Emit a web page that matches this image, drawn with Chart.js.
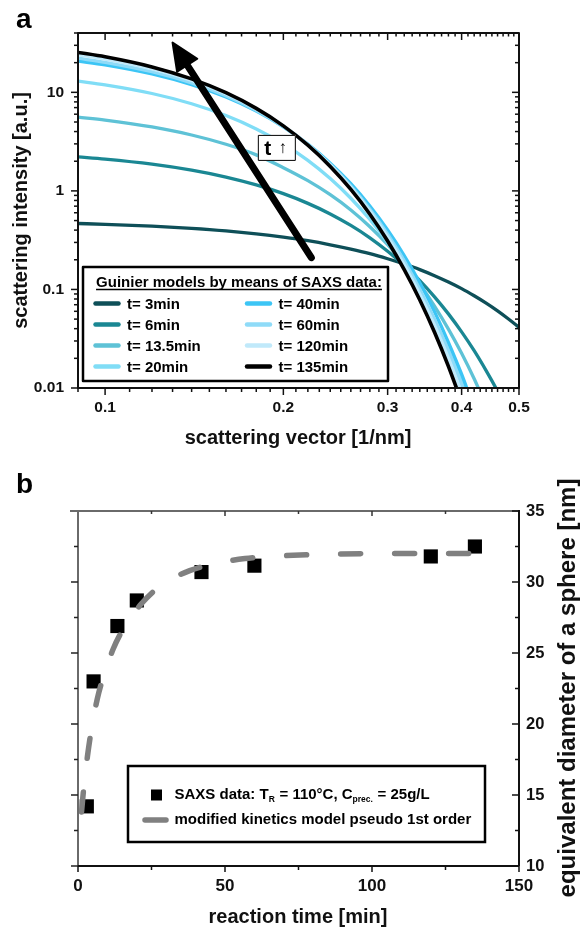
<!DOCTYPE html>
<html>
<head>
<meta charset="utf-8">
<script src="https://cdn.jsdelivr.net/npm/chart.js@4.4.1/dist/chart.umd.min.js"></script>
<style>
  body { margin: 0; background: #fff; width: 580px; height: 929px; position: relative; overflow: hidden; }
  #wrapA { position: absolute; left: 0; top: 0; width: 580px; height: 465px; }
  #wrapB { position: absolute; left: 0; top: 465px; width: 580px; height: 464px; }
</style>
</head>
<body>
<div id="wrapA"><canvas id="chartA" width="580" height="465"></canvas></div>
<div id="wrapB"><canvas id="chartB" width="580" height="464"></canvas></div>
<script>
// ---- panel a: Guinier models ----
const qGrid = [0.09, 0.10, 0.12, 0.14, 0.16, 0.18, 0.20, 0.22, 0.24, 0.26, 0.28, 0.30, 0.32, 0.34, 0.36, 0.38, 0.40, 0.42, 0.44, 0.46, 0.48, 0.50];
const curveLabels = ['t= 3min', 't= 6min', 't= 13.5min', 't= 20min', 't= 40min', 't= 60min', 't= 120min', 't= 135min'];
const curveColors = ['#0e4f58', '#1a8793', '#5ec2d6', '#80ddf6', '#3cc5f5', '#8fdbf8', '#c0e9fa', '#000000'];
const I_t3    = [0.467, 0.458, 0.438, 0.416, 0.392, 0.366, 0.339, 0.312, 0.284, 0.257, 0.231, 0.205, 0.181, 0.159, 0.138, 0.119, 0.102, 0.0863, 0.0727, 0.0607, 0.0502, 0.0413];
const I_t6    = [2.21, 2.10, 1.866, 1.622, 1.380, 1.149, 0.937, 0.747, 0.584, 0.446, 0.334, 0.244, 0.175, 0.123, 0.0842, 0.0565, 0.0371, 0.0239, 0.0150, 0.0093, 0.0056];
const I_t13_5 = [5.6, 5.23, 4.45, 3.69, 2.97, 2.32, 1.72, 1.27, 0.915, 0.640, 0.433, 0.285, 0.182, 0.113, 0.0678, 0.0396, 0.0225, 0.0124, 0.0066];
const I_t20   = [13.0, 11.91, 9.73, 7.66, 5.81, 4.25, 3.00, 2.04, 1.334, 0.842, 0.512, 0.300, 0.170, 0.0925, 0.0486, 0.0246, 0.0120, 0.0056];
const I_t40   = [20.8, 18.98, 15.35, 11.95, 8.95, 6.45, 4.47, 2.98, 1.913, 1.182, 0.702, 0.401, 0.221, 0.117, 0.0595, 0.0291, 0.0138, 0.0062];
const I_t60   = [22.2, 20.18, 16.18, 12.46, 9.22, 6.56, 4.48, 2.93, 1.850, 1.120, 0.651, 0.364, 0.195, 0.1007, 0.0498, 0.0237, 0.0108, 0.0048];
const I_t120  = [24.0, 21.74, 17.29, 13.20, 9.66, 6.78, 4.57, 2.95, 1.830, 1.088, 0.620, 0.339, 0.178, 0.0896, 0.0433, 0.0201, 0.0089];
const I_t135  = [25.4, 22.93, 18.10, 13.68, 9.91, 6.87, 4.57, 2.91, 1.771, 1.034, 0.579, 0.310, 0.159, 0.0782, 0.0368, 0.0166, 0.0072];
const curves = [I_t3, I_t6, I_t13_5, I_t20, I_t40, I_t60, I_t120, I_t135];

const xTicksA = [0.1, 0.2, 0.3, 0.4, 0.5];
const xTickLabelsA = ['0.1', '0.2', '0.3', '0.4', '0.5'];
const yTicksA = [0.01, 0.1, 1, 10];
const yTickLabelsA = ['0.01', '0.1', '1', '10'];

// arrow and "t ↑" note, in data units
const arrowFrom = { q: 0.223, I: 0.21 };
const arrowTo = { q: 0.130, I: 32 };
const noteAt = { q: 0.195, I: 2.73 };

// ---- panel b: particle size vs reaction time ----
const saxsTime = [3, 5.3, 13.4, 20, 42, 60, 120, 135];
const saxsDiam = [14.2, 23.0, 26.9, 28.7, 30.7, 31.15, 31.8, 32.5];
const modelTime = [1.2, 2, 3.2, 4.7, 6.6, 8.6, 12, 16, 21.7, 28.5, 38, 46.6, 56.8, 66, 75.5, 85, 100, 120, 141];
const modelDiam = [13.8, 15.6, 17.7, 19.8, 21.8, 23.3, 25.3, 26.9, 28.5, 29.8, 30.8, 31.3, 31.65, 31.8, 31.9, 31.95, 32.0, 32.0, 32.0];
const xTicksB = [0, 50, 100, 150];
const yTicksB = [10, 15, 20, 25, 30, 35];

const FAM = '"Liberation Sans", Arial, Helvetica, sans-serif';
const font = (s, w) => (w || 'bold') + ' ' + s + 'px ' + FAM;

function seg(ctx, x1, y1, x2, y2) {
  ctx.beginPath(); ctx.moveTo(x1, y1); ctx.lineTo(x2, y2); ctx.stroke();
}

const decorA = {
  id: 'decorA',
  afterDraw(chart) {
    const { ctx, chartArea: a, scales: { x, y } } = chart;
    ctx.save();
    ctx.strokeStyle = '#111';
    ctx.fillStyle = '#000';

    // arrow
    const p1 = { x: x.getPixelForValue(arrowFrom.q), y: y.getPixelForValue(arrowFrom.I) };
    const p2 = { x: x.getPixelForValue(arrowTo.q), y: y.getPixelForValue(arrowTo.I) };
    const ang = Math.atan2(p2.y - p1.y, p2.x - p1.x);
    const hl = 27, hw = 12;
    const bx = p2.x - hl * Math.cos(ang), by = p2.y - hl * Math.sin(ang);
    ctx.lineWidth = 7; ctx.lineCap = 'round'; ctx.strokeStyle = '#000';
    seg(ctx, p1.x, p1.y, bx + 3 * Math.cos(ang), by + 3 * Math.sin(ang));
    ctx.lineCap = 'butt';
    ctx.beginPath();
    ctx.moveTo(p2.x, p2.y);
    ctx.lineTo(bx + hw * Math.sin(ang), by - hw * Math.cos(ang));
    ctx.lineTo(bx - hw * Math.sin(ang), by + hw * Math.cos(ang));
    ctx.closePath();
    ctx.lineJoin = 'round'; ctx.lineWidth = 2; ctx.fill(); ctx.stroke();

    // "t ↑" box
    const nx = x.getPixelForValue(noteAt.q), ny = y.getPixelForValue(noteAt.I);
    ctx.fillStyle = '#fff';
    ctx.fillRect(nx - 19, ny - 13, 38, 26);
    ctx.lineWidth = 1; ctx.strokeStyle = '#000';
    ctx.strokeRect(nx - 18.5, ny - 12.5, 37, 25);
    ctx.fillStyle = '#000';
    ctx.textBaseline = 'middle'; ctx.textAlign = 'center';
    ctx.font = font(21);
    ctx.fillText('t', nx - 9, ny + 1);
    ctx.font = font(17, 'normal');
    ctx.fillText('\u2191', nx + 6, ny);

    // frame
    ctx.strokeStyle = '#111'; ctx.lineWidth = 2;
    ctx.strokeRect(a.left, a.top, a.right - a.left, a.bottom - a.top);

    // y ticks: left outward, right inward
    ctx.lineWidth = 1.5;
    yTicksA.forEach(major => {
      for (let m = 1; m <= 9; m++) {
        const v = major * m;
        if (v > y.max) break;
        const py = y.getPixelForValue(v);
        const len = m === 1 ? 7 : 4;
        seg(ctx, a.left, py, a.left - len, py);
        seg(ctx, a.right, py, a.right - len, py);
      }
    });
    // x ticks: every 0.01, bottom outward, top inward
    for (let k = 9; k <= 50; k++) {
      const v = k / 100;
      const px = x.getPixelForValue(v);
      const major = k % 10 === 0;
      seg(ctx, px, a.bottom, px, a.bottom + (major ? 7 : 4));
      seg(ctx, px, a.top, px, a.top + (major ? 7 : 3.5));
    }

    // tick labels
    ctx.fillStyle = '#111';
    ctx.font = font(15.5);
    ctx.textAlign = 'right'; ctx.textBaseline = 'middle';
    yTicksA.forEach((v, i) => ctx.fillText(yTickLabelsA[i], 64, y.getPixelForValue(v)));
    ctx.textAlign = 'center';
    xTicksA.forEach((v, i) => ctx.fillText(xTickLabelsA[i], x.getPixelForValue(v), 408));

    // axis titles
    ctx.font = font(20);
    ctx.fillText('scattering vector [1/nm]', 298, 438);
    ctx.save();
    ctx.translate(21, 210.5); ctx.rotate(-Math.PI / 2);
    ctx.fillText('scattering intensity [a.u.]', 0, 0);
    ctx.restore();

    // panel letter
    ctx.font = font(28); ctx.textAlign = 'left'; ctx.textBaseline = 'alphabetic'; ctx.fillStyle = '#000';
    ctx.fillText('a', 16, 28);

    // legend box
    ctx.fillStyle = '#fff';
    ctx.fillRect(83, 267, 305, 114);
    ctx.lineWidth = 2.5; ctx.strokeStyle = '#000';
    ctx.strokeRect(83, 267, 305, 114);
    ctx.fillStyle = '#000';
    ctx.font = font(15);
    ctx.textAlign = 'center'; ctx.textBaseline = 'alphabetic';
    const title = 'Guinier models by means of SAXS data:';
    ctx.fillText(title, 239, 287);
    const tw = ctx.measureText(title).width;
    ctx.lineWidth = 1.6;
    seg(ctx, 239 - tw / 2, 289.5, 239 + tw / 2, 289.5);
    ctx.textAlign = 'left'; ctx.textBaseline = 'middle';
    curveLabels.forEach((lab, i) => {
      const col = i < 4 ? 0 : 1;
      const ry = 303.5 + 21 * (i % 4);
      const lx = col ? 247 : 95.5;
      ctx.strokeStyle = curveColors[i]; ctx.lineWidth = 4.5; ctx.lineCap = 'round';
      seg(ctx, lx, ry, lx + 23, ry);
      ctx.fillStyle = '#000';
      ctx.fillText(lab, col ? 278.5 : 127, ry + 1);
    });
    ctx.restore();
  }
};

const decorB = {
  id: 'decorB',
  afterDraw(chart) {
    const { ctx, chartArea: a, scales: { x, y } } = chart;
    ctx.save();
    // axis lines
    ctx.lineWidth = 2;
    ctx.strokeStyle = '#6a6a6a';
    seg(ctx, a.left - 8, a.top, a.right, a.top);
    seg(ctx, a.left, a.top, a.left, a.bottom);
    ctx.strokeStyle = '#111';
    seg(ctx, a.left, a.bottom, a.right, a.bottom);
    seg(ctx, a.right, a.top - 1, a.right, a.bottom);

    // y ticks every 2.5
    ctx.lineWidth = 1.5;
    for (let v = 10; v <= 35; v += 2.5) {
      const py = y.getPixelForValue(v);
      const major = v % 5 === 0;
      ctx.strokeStyle = '#222';
      if (v < 35) seg(ctx, a.left, py, a.left - (major ? 7 : 4), py);
      ctx.strokeStyle = '#111';
      seg(ctx, a.right, py, a.right - (major ? 7 : 4), py);
    }
    // x ticks every 25
    for (let v = 0; v <= 150; v += 25) {
      const px = x.getPixelForValue(v);
      const major = v % 50 === 0;
      ctx.strokeStyle = '#111';
      seg(ctx, px, a.bottom, px, a.bottom + (major ? 6 : 4));
      ctx.strokeStyle = '#333';
      if (v > 0 && v < 150) seg(ctx, px, a.top, px, a.top + (major ? 5 : 3));
    }

    // tick labels
    ctx.fillStyle = '#111';
    ctx.font = font(17);
    ctx.textAlign = 'center'; ctx.textBaseline = 'middle';
    xTicksB.forEach(v => ctx.fillText(String(v), x.getPixelForValue(v), 421));
    ctx.font = font(16.5);
    ctx.textAlign = 'left';
    yTicksB.forEach(v => ctx.fillText(String(v), 526, y.getPixelForValue(v)));

    // titles
    ctx.textAlign = 'center';
    ctx.font = font(20);
    ctx.fillText('reaction time [min]', 298, 452);
    ctx.save();
    ctx.translate(568, 223); ctx.rotate(-Math.PI / 2);
    ctx.font = font(24);
    ctx.fillText('equivalent diameter of a sphere [nm]', 0, 0);
    ctx.restore();

    ctx.font = font(28); ctx.textAlign = 'left'; ctx.textBaseline = 'alphabetic'; ctx.fillStyle = '#000';
    ctx.fillText('b', 16, 28);

    // legend
    ctx.fillStyle = '#fff';
    ctx.fillRect(128, 301, 357, 76);
    ctx.lineWidth = 2.5; ctx.strokeStyle = '#000';
    ctx.strokeRect(128, 301, 357, 76);
    ctx.fillStyle = '#000';
    ctx.fillRect(151, 324.5, 11, 11);
    ctx.strokeStyle = '#808080'; ctx.lineWidth = 5.5; ctx.lineCap = 'round';
    seg(ctx, 145, 355, 166, 355);
    ctx.textBaseline = 'middle';
    let tx = 174.5;
    const parts = [['SAXS data: T', 0], ['R', 1], [' = 110\u00b0C, C', 0], ['prec.', 1], [' = 25g/L', 0]];
    parts.forEach(([s, sub]) => {
      ctx.font = font(sub ? 8.5 : 15);
      ctx.fillText(s, tx, sub ? 335 : 330);
      tx += ctx.measureText(s).width + (sub ? 0.5 : 0);
    });
    ctx.font = font(15);
    ctx.fillText('modified kinetics model pseudo 1st order', 174.5, 355);
    ctx.restore();
  }
};

new Chart(document.getElementById('chartA'), {
  type: 'line',
  data: {
    datasets: curves.map((vals, i) => ({
      label: curveLabels[i],
      data: vals.map((v, j) => ({ x: qGrid[j], y: v })),
      borderColor: curveColors[i],
      borderWidth: i === 7 ? 3.6 : 3.3,
      pointRadius: 0,
      cubicInterpolationMode: 'monotone',
      order: curves.length - i
    }))
  },
  options: {
    responsive: false,
    animation: false,
    layout: { padding: { left: 78, top: 33, right: 61, bottom: 77 } },
    plugins: { legend: { display: false }, tooltip: { enabled: false } },
    scales: {
      x: { type: 'logarithmic', min: 0.09, max: 0.5, display: false },
      y: { type: 'logarithmic', min: 0.01, max: 40, display: false }
    }
  },
  plugins: [decorA]
});

new Chart(document.getElementById('chartB'), {
  type: 'scatter',
  data: {
    datasets: [
      {
        label: 'modified kinetics model pseudo 1st order',
        data: modelTime.map((t, i) => ({ x: t, y: modelDiam[i] })),
        showLine: true,
        borderColor: '#808080',
        borderWidth: 5.5,
        borderDash: [20, 34],
        borderCapStyle: 'round',
        pointRadius: 0,
        cubicInterpolationMode: 'monotone',
        order: 0
      },
      {
        label: 'SAXS data',
        data: saxsTime.map((t, i) => ({ x: t, y: saxsDiam[i] })),
        pointStyle: 'rect',
        pointRadius: 10,
        backgroundColor: '#000',
        borderWidth: 0,
        order: 1
      }
    ]
  },
  options: {
    responsive: false,
    animation: false,
    layout: { padding: { left: 78, top: 46, right: 61, bottom: 63 } },
    plugins: { legend: { display: false }, tooltip: { enabled: false } },
    scales: {
      x: { type: 'linear', min: 0, max: 150, display: false },
      y: { type: 'linear', min: 10, max: 35, display: false }
    }
  },
  plugins: [decorB]
});
</script>
</body>
</html>
